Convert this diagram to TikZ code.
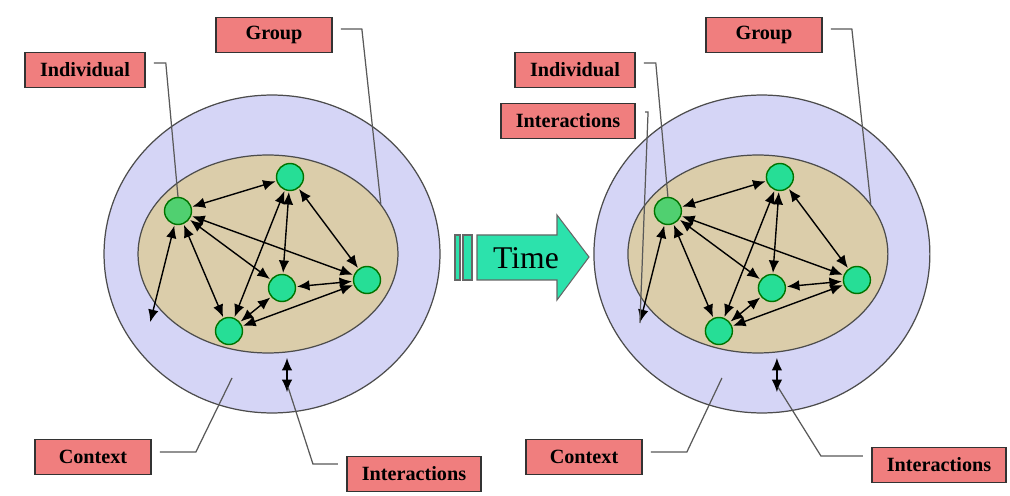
\documentclass[tikz,border=0pt]{standalone}
\usepackage{fontspec}
\setmainfont{Liberation Serif}
\usetikzlibrary{arrows.meta,shapes.geometric}
\definecolor{ctxblue}{RGB}{213,213,246}
\definecolor{grptan}{RGB}{219,205,170}
\definecolor{memgreen}{RGB}{38,222,150}
\definecolor{indgreen}{RGB}{80,208,112}
\definecolor{lblred}{RGB}{240,126,126}
\definecolor{timegreen}{RGB}{44,226,172}
\tikzset{
	tie/.style={{Latex[length=2.5mm,width=2.1mm]}-{Latex[length=2.5mm,width=2.1mm]}, line width=0.8pt, shorten <=0.5pt, shorten >=0.5pt},
	member/.style={circle, draw=black!55!green, line width=0.8pt, fill=memgreen, minimum size=0.54cm, inner sep=0pt},
	ring/.style={ellipse, draw=black!70, line width=0.7pt, inner sep=0pt},
	lbl/.style={draw=black!80, line width=1pt, fill=lblred, font=\bfseries\fontsize{11.5}{13}\selectfont, minimum width=2.32cm, minimum height=0.7cm, inner xsep=0.3cm},
	lead/.style={draw=black!65, line width=0.7pt}
}
% one context circle with its group, members and interactions
\def\panel(#1)(#2){%
	\begin{scope}[xshift=#2]
	\node[ring, fill=ctxblue, minimum width=6.72cm, minimum height=6.36cm] (c#1) at (272,254) {};
	\node[ring, fill=grptan, minimum width=5.2cm, minimum height=3.96cm] (g#1) at (268,254) {};
	\node[member, fill=indgreen] (a#1) at (178,211) {};
	\node[member] (b#1) at (290,177) {};
	\node[member] (m#1) at (282,288) {};
	\node[member] (d#1) at (367,280) {};
	\node[member] (e#1) at (229,331) {};
	\coordinate (f#1) at (150,323);
	\coordinate (p#1) at (287,357);
	\coordinate (q#1) at (287,393);
	\coordinate (k#1) at (232,378);
	\coordinate (j#1) at (288,387);
	\draw[tie] (a#1) -- (b#1);
	\draw[tie] (a#1) -- (m#1);
	\draw[tie] (a#1) -- (d#1);
	\draw[tie] (a#1) -- (e#1);
	\draw[tie] (a#1) -- (f#1);
	\draw[tie] (b#1) -- (m#1);
	\draw[tie] (b#1) -- (d#1);
	\draw[tie] (b#1) -- (e#1);
	\draw[tie] (m#1) -- (d#1);
	\draw[tie] (m#1) -- (e#1);
	\draw[tie] (e#1) -- (d#1);
	\draw[tie] (p#1) -- (q#1);
	\end{scope}}

\begin{document}
\begin{tikzpicture}[x=0.02cm, y=-0.02cm]
		%%%%% START %%%%%
		
		\fill[white] (0,0) rectangle (1010,496);
		\useasboundingbox (0,0) rectangle (1010,496);
		
		\panel(L)(0cm)
		\panel(R)(9.8cm)
		
		% time arrow
		\draw[fill=timegreen, draw=black!60, line width=0.6pt] (455,235) rectangle (460,280);
		\draw[fill=timegreen, draw=black!60, line width=0.6pt] (463,235) rectangle (472,280);
		\draw[fill=timegreen, draw=black!60, line width=0.6pt] (477,235) -- (557,235) -- (557,215) -- (589,257) -- (557,300) -- (557,280) -- (477,280) -- cycle;
		\node[font=\fontsize{18}{20}\selectfont] (time) at (526,258) {Time};
		
		% labels, left
		\node[lbl] (grpL) at (274,35) {Group};
		\node[lbl] (indL) at (85,70) {Individual};
		\node[lbl] (ctxL) at (93,457) {Context};
		\node[lbl] (intL) at (414,474) {Interactions};
		
		\draw[lead] ([xshift=0.16cm,yshift=0.12cm]grpL.east) -- ++(21,0) -- (gL.24);
		\draw[lead] ([xshift=0.16cm,yshift=0.14cm]indL.east) -- ++(12,0) -- (aL.north);
		\draw[lead] ([xshift=0.16cm,yshift=0.1cm]ctxL.east) -- ++(36,0) -- (kL);
		\draw[lead] ([xshift=-0.16cm,yshift=0.2cm]intL.west) -- ++(-25,0) -- (jL);
		
		% labels, right
		\node[lbl] (grpR) at (764,35) {Group};
		\node[lbl] (indR) at (575,70) {Individual};
		\node[lbl] (actR) at (568,121) {Interactions};
		\node[lbl] (ctxR) at (584,457) {Context};
		\node[lbl] (intR) at (939,465) {Interactions};
		
		\draw[lead] ([xshift=0.16cm,yshift=0.12cm]grpR.east) -- ++(21,0) -- (gR.24);
		\draw[lead] ([xshift=0.16cm,yshift=0.14cm]indR.east) -- ++(12,0) -- (aR.north);
		\draw[lead] ([xshift=0.18cm,yshift=0.18cm]actR.east) -- ++(3,0) -- (fR);
		\draw[lead] ([xshift=0.16cm,yshift=0.1cm]ctxR.east) -- ++(36,0) -- (kR);
		\draw[lead] ([xshift=-0.16cm,yshift=0.18cm]intR.west) -- ++(-42,0) -- (jR);
		
		%%%%% END %%%%%
	\end{tikzpicture}
\end{document}
